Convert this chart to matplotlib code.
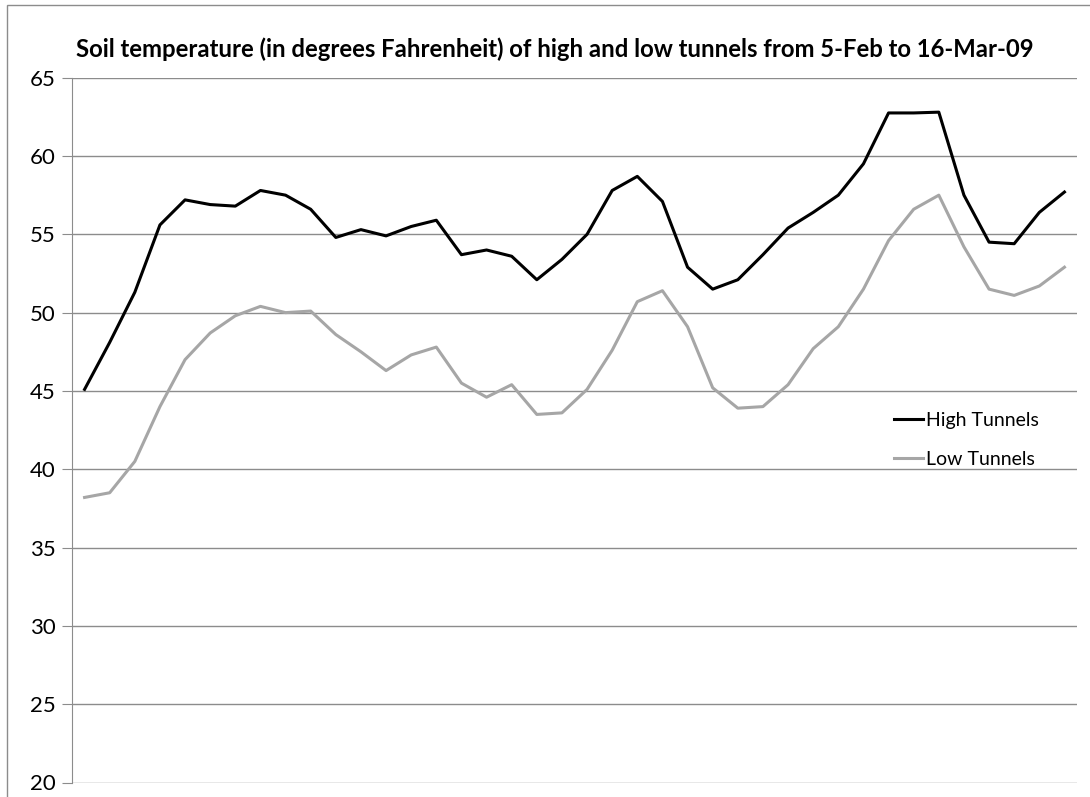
import pandas as pd
import matplotlib.pyplot as plt
from matplotlib.patches import Rectangle

plt.rcParams['font.family'] = ['Lato', 'DejaVu Sans']

# daily soil temperatures, 5-Feb to 16-Mar-09
days = pd.date_range('2009-02-05', '2009-03-16', freq='D')
high_tunnels = [45.1, 48.1, 51.3, 55.6, 57.2, 56.9, 56.8, 57.8, 57.5, 56.6,
                54.8, 55.3, 54.9, 55.5, 55.9, 53.7, 54.0, 53.6, 52.1, 53.4,
                55.0, 57.8, 58.7, 57.1, 52.9, 51.5, 52.1, 53.7, 55.4, 56.4,
                57.5, 59.5, 62.75, 62.75, 62.8, 57.5, 54.5, 54.4, 56.4, 57.7]
low_tunnels = [38.2, 38.5, 40.5, 44.0, 47.0, 48.7, 49.8, 50.4, 50.0, 50.1,
               48.6, 47.5, 46.3, 47.3, 47.8, 45.5, 44.6, 45.4, 43.5, 43.6,
               45.1, 47.6, 50.7, 51.4, 49.1, 45.2, 43.9, 44.0, 45.4, 47.7,
               49.1, 51.5, 54.6, 56.6, 57.5, 54.2, 51.5, 51.1, 51.7, 52.9]

fig = plt.figure(figsize=(10.9, 7.97), dpi=100)
ax = fig.add_axes([72/1090, 1 - 782.5/797, (1077 - 72)/1090, (782.5 - 77.7)/797])

x = range(len(days))
ax.plot(x, high_tunnels, color='black', linewidth=2.2, label='High Tunnels')
ax.plot(x, low_tunnels, color='#a6a6a6', linewidth=2.2, label='Low Tunnels')

ax.set_xlim(-0.5, len(days) - 0.5)
ax.set_ylim(20, 65)
ax.set_yticks(range(20, 66, 5))
ax.set_xticks([])
ax.grid(axis='y', color='#8c8c8c', linewidth=1)
ax.set_axisbelow(True)
for s in ['top', 'right', 'bottom']:
    ax.spines[s].set_visible(False)
ax.spines['left'].set_color('#8c8c8c')
ax.tick_params(axis='y', length=7, color='#8c8c8c', labelsize=16, pad=5)

leg = ax.legend(loc='upper left', bbox_to_anchor=(0.818, 0.526), frameon=False,
                borderpad=0, borderaxespad=0, fontsize=14, handlelength=1.5,
                handletextpad=0.15, labelspacing=1.15)

fig.text(555/1090, 1 - 49/797, 'Soil temperature (in degrees Fahrenheit) of high and low tunnels from 5-Feb to 16-Mar-09',
         ha='center', va='center', fontsize=17.2, fontweight='bold')

# outer chart border
fig.patches.append(Rectangle((7/1090, -0.1), 1.2, 1 - 5/797 + 0.1, transform=fig.transFigure,
                             fill=False, edgecolor='#8c8c8c', linewidth=1))

fig.savefig('out.png', dpi=100)
